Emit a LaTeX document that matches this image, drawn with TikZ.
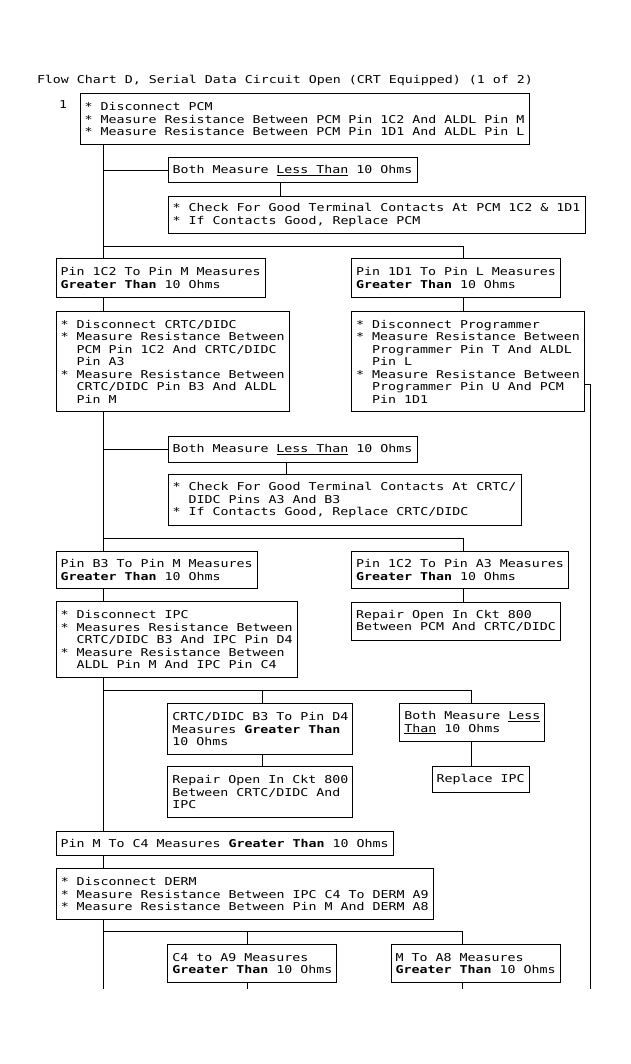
\documentclass[tikz,border=0pt]{standalone}
\usepackage{fontspec}
\newfontfamily\cmono[FakeStretch=1.23]{DejaVu Sans Mono}
\begin{document}
\begin{tikzpicture}[x=1pt,y=-1pt,line width=1pt,
  txt/.style={inner sep=0pt,font=\cmono\fontsize{10.8}{12.5}\selectfont},
  box/.style={draw,line width=1pt,anchor=north west,inner xsep=4.5pt,inner ysep=0pt,
    align=left,font=\cmono\fontsize{10.8}{12.5}\selectfont},
  wire/.style={draw,line width=1pt}]
\fill[white] (0,0) rectangle (630,1064);
\useasboundingbox (0,0) rectangle (630,1064);
% trunk and column x positions
\coordinate (tx) at (103.3,0);
\coordinate (rx) at (463,0);
\coordinate (c1x) at (280.5,0);
\coordinate (c2x) at (286.5,0);
\coordinate (c3x) at (262.5,0);
\coordinate (c4x) at (471,0);
\coordinate (c5x) at (247.3,0);
\coordinate (c6x) at (462.8,0);
% title and step number
\node[txt,anchor=west] (title) at (36.5,80.5) {Flow Chart D, Serial Data Circuit Open (CRT Equipped) (1 of 2)};
\node[txt] (n1) at (63,105) {1};
% boxes
\node[box,minimum width=449pt,minimum height=50.5pt] (b1) at (79.5,93.5)
 {{*} Disconnect PCM\\{*} Measure Resistance Between PCM Pin 1C2 And ALDL Pin M\\{*} Measure Resistance Between PCM Pin 1D1 And ALDL Pin L};
\node[box,minimum width=249pt,minimum height=25pt] (less1) at (167.5,157.5)
 {Both Measure \underline{Less Than} 10 Ohms};
\node[box,minimum width=417pt,minimum height=37pt] (chk1) at (167.5,196)
 {{*} Check For Good Terminal Contacts At PCM 1C2 \& 1D1\\{*} If Contacts Good, Replace PCM};
\node[box,minimum width=209pt,minimum height=38pt] (g1) at (55.7,258.5)
 {Pin 1C2 To Pin M Measures\\\textbf{Greater Than} 10 Ohms};
\node[box,minimum width=209pt,minimum height=38pt] (g2) at (351,258.5)
 {Pin 1D1 To Pin L Measures\\\textbf{Greater Than} 10 Ohms};
\node[box,minimum width=233pt,minimum height=100pt] (d1) at (55.7,311)
 {{*} Disconnect CRTC/DIDC\\{*} Measure Resistance Between\\\hphantom{xx}PCM Pin 1C2 And CRTC/DIDC\\\hphantom{xx}Pin A3\\{*} Measure Resistance Between\\\hphantom{xx}CRTC/DIDC Pin B3 And ALDL\\\hphantom{xx}Pin M};
\node[box,minimum width=233pt,minimum height=100pt] (p1) at (351,311)
 {{*} Disconnect Programmer\\{*} Measure Resistance Between\\\hphantom{xx}Programmer Pin T And ALDL\\\hphantom{xx}Pin L\\{*} Measure Resistance Between\\\hphantom{xx}Programmer Pin U And PCM\\\hphantom{xx}Pin 1D1};
\node[box,minimum width=249pt,minimum height=26pt] (less2) at (167.5,436)
 {Both Measure \underline{Less Than} 10 Ohms};
\node[box,minimum width=353pt,minimum height=51pt] (chk2) at (167.5,474.3)
 {{*} Check For Good Terminal Contacts At CRTC/\\\hphantom{xx}DIDC Pins A3 And B3\\{*} If Contacts Good, Replace CRTC/DIDC};
\node[box,minimum width=201pt,minimum height=37.6pt] (g3) at (55.7,550.7)
 {Pin B3 To Pin M Measures\\\textbf{Greater Than} 10 Ohms};
\node[box,minimum width=217pt,minimum height=37.6pt] (g4) at (351,550.7)
 {Pin 1C2 To Pin A3 Measures\\\textbf{Greater Than} 10 Ohms};
\node[box,minimum width=209pt,minimum height=38pt] (r1) at (351,601.5)
 {Repair Open In Ckt 800\\Between PCM And CRTC/DIDC};
\node[box,minimum width=241pt,minimum height=76pt] (ipc) at (55.7,601)
 {{*} Disconnect IPC\\{*} Measures Resistance Between\\\hphantom{xx}CRTC/DIDC B3 And IPC Pin D4\\{*} Measure Resistance Between\\\hphantom{xx}ALDL Pin M And IPC Pin C4};
\node[box,minimum width=185pt,minimum height=51pt] (cd) at (167.3,703.3)
 {CRTC/DIDC B3 To Pin D4\\Measures \textbf{Greater Than}\\10 Ohms};
\node[box,minimum width=145pt,minimum height=38pt] (less3) at (399.3,703.3)
 {Both Measure \underline{Less}\\\underline{Than} 10 Ohms};
\node[box,minimum width=185pt,minimum height=51pt] (rep2) at (167.3,766.3)
 {Repair Open In Ckt 800\\Between CRTC/DIDC And\\IPC};
\node[box,minimum width=97pt,minimum height=26pt] (rip) at (431.7,766.3)
 {Replace IPC};
\node[box,minimum width=337pt,minimum height=24.5pt] (pm) at (55.7,830.5)
 {Pin M To C4 Measures \textbf{Greater Than} 10 Ohms};
\node[box,minimum width=377pt,minimum height=51pt] (derm) at (55.7,868.3)
 {{*} Disconnect DERM\\{*} Measure Resistance Between IPC C4 To DERM A9\\{*} Measure Resistance Between Pin M And DERM A8};
\node[box,minimum width=169pt,minimum height=37.7pt] (c4) at (167.3,944.3)
 {C4 to A9 Measures\\\textbf{Greater Than} 10 Ohms};
\node[box,minimum width=169pt,minimum height=37.7pt] (m8) at (390.6,944.3)
 {M To A8 Measures\\\textbf{Greater Than} 10 Ohms};
% junction and end coordinates
\coordinate (s1) at (103.3,246.7);
\coordinate (s2) at (103.3,538.3);
\coordinate (s3) at (103.3,690.7);
\coordinate (s4) at (103.3,931.7);
\coordinate (rl) at (590.7,384.3);
\coordinate (endT) at (103.3,988.7);
\coordinate (endR) at (590.7,988.7);
\coordinate (endA) at (247.3,988.7);
\coordinate (endB) at (462.8,988.7);
% trunk
\draw[wire] (b1.south -| tx) -- (g1.north -| tx);
\draw[wire] (g1.south -| tx) -- (d1.north -| tx);
\draw[wire] (d1.south -| tx) -- (g3.north -| tx);
\draw[wire] (g3.south -| tx) -- (ipc.north -| tx);
\draw[wire] (ipc.south -| tx) -- (pm.north -| tx);
\draw[wire] (pm.south -| tx) -- (derm.north -| tx);
\draw[wire] (derm.south -| tx) -- (endT);
% first block
\draw[wire] (less1.west -| tx) -- (less1.west);
\draw[wire] (less1.south -| c1x) -- (chk1.north -| c1x);
\draw[wire] (s1) -| (g2.north -| rx);
\draw[wire] (g2.south -| rx) -- (p1.north -| rx);
\draw[wire] (p1.east |- rl) -- (rl) -- (endR);
% second block
\draw[wire] (less2.west -| tx) -- (less2.west);
\draw[wire] (less2.south -| c2x) -- (chk2.north -| c2x);
\draw[wire] (s2) -| (g4.north -| rx);
\draw[wire] (g4.south -| rx) -- (r1.north -| rx);
% third block
\draw[wire] (s3) -| (less3.north -| c4x);
\draw[wire] (s3 -| c3x) -- (cd.north -| c3x);
\draw[wire] (cd.south -| c3x) -- (rep2.north -| c3x);
\draw[wire] (less3.south -| c4x) -- (rip.north -| c4x);
% fourth block
\draw[wire] (s4) -| (m8.north -| c6x);
\draw[wire] (s4 -| c5x) -- (c4.north -| c5x);
\draw[wire] (c4.south -| c5x) -- (endA);
\draw[wire] (m8.south -| c6x) -- (endB);
\end{tikzpicture}
\end{document}
